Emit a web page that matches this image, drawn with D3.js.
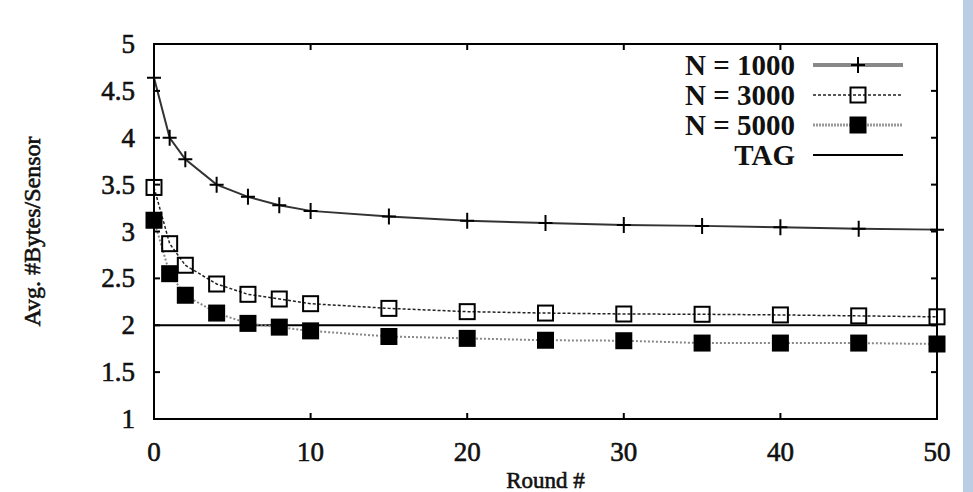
<!DOCTYPE html>
<html>
<head>
<meta charset="utf-8">
<script src="https://cdn.jsdelivr.net/npm/d3@7"></script>
<style>
  body { margin: 0; background: #fff; }
  text { font-family: "Liberation Serif", "Times New Roman", serif; fill: #111; }
  .heavy { stroke: #111; stroke-width: 0.6px; }
</style>
</head>
<body>
<div id="graph"></div>
<script>
// valeurs
const rounds = [0, 1, 2, 4, 6, 8, 10, 15, 20, 25, 30, 35, 40, 45, 50];
const n1000 = [4.64, 4.00, 3.77, 3.50, 3.37, 3.28, 3.22, 3.16, 3.115, 3.09, 3.07, 3.06, 3.045, 3.03, 3.02];
const n3000 = [3.47, 2.87, 2.64, 2.44, 2.33, 2.28, 2.23, 2.18, 2.145, 2.13, 2.12, 2.117, 2.11, 2.10, 2.09];
const n5000 = [3.12, 2.55, 2.32, 2.13, 2.02, 1.98, 1.94, 1.88, 1.86, 1.84, 1.835, 1.81, 1.81, 1.81, 1.80];
const tagValue = 2;
const seriesNames = ["N = 1000", "N = 3000", "N = 5000", "TAG"];
const xTicks = [0, 10, 20, 30, 40, 50];
const yTicks = [1, 1.5, 2, 2.5, 3, 3.5, 4, 4.5, 5];

let margin = { top: 44, right: 36, bottom: 73, left: 154 },
    width = 973 - margin.left - margin.right,
    height = 492 - margin.top - margin.bottom;

let root = d3.select("#graph")
    .append("svg")
    .attr("width", 973)
    .attr("height", 492);

root.append("rect").attr("width", 973).attr("height", 492).attr("fill", "#fff");
// bande bleue à droite
root.append("rect").attr("x", 963).attr("y", 0).attr("width", 10).attr("height", 492).attr("fill", "#b9cde4");

let svg = root.append("g")
    .attr("transform", "translate(" + margin.left + "," + margin.top + ")");

let x = d3.scaleLinear().domain([0, 50]).range([0, width]);
let y = d3.scaleLinear().domain([1, 5]).range([height, 0]);

// ligne TAG
svg.append("line")
    .attr("x1", x(0)).attr("x2", x(50))
    .attr("y1", y(tagValue)).attr("y2", y(tagValue))
    .attr("stroke", "#000").attr("stroke-width", 2);

let styles = [
    { stroke: "#333", width: 2, dash: null, marker: "plus" },
    { stroke: "#222", width: 1.5, dash: "3,2", marker: "open" },
    { stroke: "#888", width: 2, dash: "2,2", marker: "filled" }
];
let allSeries = [n1000, n3000, n5000];

let line = d3.line()
    .x((d, i) => x(rounds[i]))
    .y(d => y(d));

allSeries.forEach((vals, k) => {
    svg.append("path")
        .datum(vals)
        .attr("d", line)
        .attr("fill", "none")
        .attr("stroke", styles[k].stroke)
        .attr("stroke-width", styles[k].width)
        .attr("stroke-dasharray", styles[k].dash);
});

function drawMarker(g, type, cx, cy) {
    if (type === "plus") {
        g.append("path")
            .attr("d", `M${cx - 7},${cy}H${cx + 7}M${cx},${cy - 8}V${cy + 8}`)
            .attr("stroke", "#000").attr("stroke-width", 2);
    } else if (type === "open") {
        g.append("rect")
            .attr("x", cx - 7.5).attr("y", cy - 7.5).attr("width", 15).attr("height", 15)
            .attr("fill", "none").attr("stroke", "#000").attr("stroke-width", 2);
    } else if (type === "filled") {
        g.append("rect")
            .attr("x", cx - 8.5).attr("y", cy - 8.5).attr("width", 17).attr("height", 17)
            .attr("fill", "#000");
    }
}

allSeries.forEach((vals, k) => {
    let g = svg.append("g");
    vals.forEach((v, i) => drawMarker(g, styles[k].marker, x(rounds[i]), y(v)));
});

// cadre + graduations
svg.append("rect")
    .attr("width", width).attr("height", height)
    .attr("fill", "none").attr("stroke", "#000").attr("stroke-width", 2);

let tickLen = 6;
xTicks.forEach(t => {
    svg.append("line").attr("x1", x(t)).attr("x2", x(t)).attr("y1", height).attr("y2", height - tickLen)
        .attr("stroke", "#000").attr("stroke-width", 2);
    svg.append("line").attr("x1", x(t)).attr("x2", x(t)).attr("y1", 0).attr("y2", tickLen)
        .attr("stroke", "#000").attr("stroke-width", 2);
    svg.append("text").attr("class", "heavy").attr("x", x(t)).attr("y", height + 42)
        .attr("text-anchor", "middle").style("font-size", "27px").text(t);
});
yTicks.forEach(t => {
    svg.append("line").attr("x1", 0).attr("x2", tickLen).attr("y1", y(t)).attr("y2", y(t))
        .attr("stroke", "#000").attr("stroke-width", 2);
    svg.append("line").attr("x1", width).attr("x2", width - tickLen).attr("y1", y(t)).attr("y2", y(t))
        .attr("stroke", "#000").attr("stroke-width", 2);
    svg.append("text").attr("class", "heavy").attr("x", -19).attr("y", y(t) + 9)
        .attr("text-anchor", "end").style("font-size", "27px").text(t);
});

// titres des axes
svg.append("text").attr("class", "heavy")
    .attr("x", width / 2).attr("y", height + 69)
    .attr("text-anchor", "middle").style("font-size", "23px")
    .text("Round #");
svg.append("text").attr("class", "heavy")
    .attr("transform", "translate(" + (-114) + "," + (height / 2) + ") rotate(-90)")
    .attr("text-anchor", "middle").style("font-size", "24px")
    .text("Avg. #Bytes/Sensor");

// légende
let legendStyles = [
    { stroke: "#888", width: 4, dash: null, marker: "plus" },
    { stroke: "#222", width: 1.5, dash: "3,2", marker: "open" },
    { stroke: "#999", width: 3, dash: "2,1", marker: "filled" },
    { stroke: "#000", width: 2, dash: null, marker: null }
];
let legend = root.append("g");
seriesNames.forEach((name, i) => {
    let ly = 65 + i * 30;
    legend.append("text").attr("x", 795).attr("y", ly + 10)
        .attr("text-anchor", "end").style("font-size", "29px").style("font-weight", "bold")
        .text(name);
    legend.append("line").attr("x1", 813).attr("x2", 903).attr("y1", ly).attr("y2", ly)
        .attr("stroke", legendStyles[i].stroke).attr("stroke-width", legendStyles[i].width)
        .attr("stroke-dasharray", legendStyles[i].dash);
    if (legendStyles[i].marker) drawMarker(legend, legendStyles[i].marker, 858, ly);
});
</script>
</body>
</html>
